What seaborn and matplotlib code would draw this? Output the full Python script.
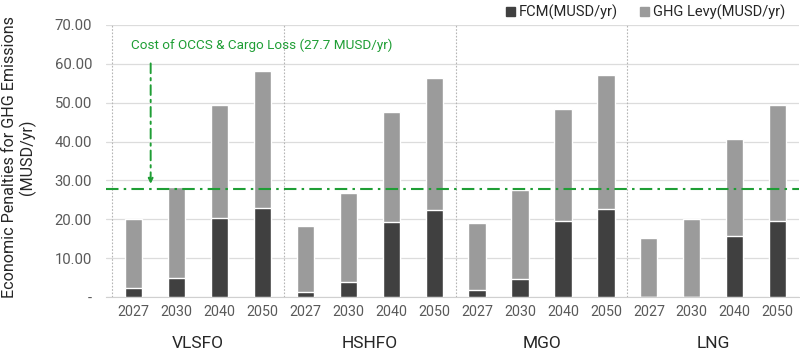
import pandas as pd
import matplotlib.pyplot as plt
import seaborn as sns
from matplotlib.patches import Patch

fuels = ['VLSFO', 'HSHFO', 'MGO', 'LNG']
years = ['2027', '2030', '2040', '2050']
fcm = [2.4, 4.9, 20.2, 23.0,
       1.2, 3.9, 19.4, 22.3,
       1.7, 4.5, 19.6, 22.6,
       0.0, 0.0, 15.8, 19.5]
total = [20.0, 28.4, 49.4, 58.1,
         18.3, 26.7, 47.6, 56.4,
         18.9, 27.4, 48.4, 57.1,
         15.1, 20.0, 40.7, 49.4]
ghg_levy = [t - f for t, f in zip(total, fcm)]
occs_cost = 27.7

df = pd.DataFrame({
    'fuel': [f for f in fuels for _ in years],
    'year': years * len(fuels),
    'fcm': fcm,
    'ghg': ghg_levy,
})
df['total'] = df['fcm'] + df['ghg']
df['slot'] = df['fuel'] + '_' + df['year']
order = list(df['slot'])

sns.set_style("white")
plt.rcParams['font.family'] = ['Roboto', 'DejaVu Sans']

fig = plt.figure(figsize=(8, 3.51), dpi=100)
ax = fig.add_axes([0.1325, 0.154, 0.8665, 0.775])

dark = '#404040'
light = '#9b9b9b'
green = '#1f9e35'
grey_txt = '#595959'

# stacked look: full height in light grey, FCM drawn over it in dark grey
sns.barplot(data=df, x='slot', y='total', order=order, color=light,
            width=0.4, saturation=1, ax=ax, zorder=2)
sns.barplot(data=df, x='slot', y='fcm', order=order, color=dark,
            width=0.4, saturation=1, ax=ax, zorder=3)

ax.set_ylim(0, 70)
ax.set_xlim(-0.64, 15.5)
ax.set_yticks(range(0, 71, 10))
ax.set_yticklabels(['-'] + [f'{v:.2f}' for v in range(10, 71, 10)],
                   color=grey_txt, fontsize=10.7)
ax.set_xticks(range(len(order)))
ax.set_xticklabels(df['year'], color=grey_txt, fontsize=10.3)
ax.tick_params(axis='both', length=0)
ax.tick_params(axis='x', pad=6)
ax.tick_params(axis='y', pad=10)
ax.set_xlabel('')
ax.set_ylabel('')
fig.text(0.024, 0.553, 'Economic Penalties for GHG Emissions\n(MUSD/yr)',
         rotation=90, ha='center', va='center', multialignment='center',
         fontsize=11.6, color='#262626', linespacing=1.15)

ax.grid(axis='y', color='#dcdcdc', linewidth=0.9, zorder=0)
ax.set_axisbelow(True)
for s in ['top', 'right', 'left']:
    ax.spines[s].set_visible(False)
ax.spines['bottom'].set_color('#d0d0d0')

# group separators
for xs in [-0.5, 3.5, 7.5, 11.5]:
    ax.axvline(xs, color='#b5b5b5', linestyle=(0, (1.5, 1.5)),
               linewidth=0.8, zorder=1)

# group names
for i, fuel in enumerate(fuels):
    ax.text(i * 4 + 1.5, -0.172, fuel, transform=ax.get_xaxis_transform(),
            ha='center', va='center', fontsize=12.5, color='#262626')

# OCCS threshold line with annotation
ax.axhline(occs_cost, color=green, linestyle=(0, (6, 2.5, 1.2, 2.5)),
           linewidth=1.5, zorder=4)
ax.annotate('', xy=(0.4, occs_cost + 0.7), xytext=(0.4, 60.8),
            arrowprops=dict(arrowstyle='-|>', color=green, lw=1.4,
                            linestyle=(0, (5, 2.5, 1.2, 2.5)),
                            mutation_scale=7))
ax.text(-0.05, 64.7, 'Cost of OCCS & Cargo Loss (27.7 MUSD/yr)',
        color=green, fontsize=9.7, ha='left', va='center')

# legend
handles = [Patch(color=dark, label='FCM(MUSD/yr)'),
           Patch(color=light, label='GHG Levy(MUSD/yr)')]
fig.legend(handles=handles, loc='center right', bbox_to_anchor=(0.998, 0.965),
           ncol=2, frameon=False, fontsize=10.5, handlelength=0.6,
           handleheight=0.6, handletextpad=0.3, columnspacing=1.5,
           labelcolor='#262626')

fig.savefig('out.png', dpi=100)
